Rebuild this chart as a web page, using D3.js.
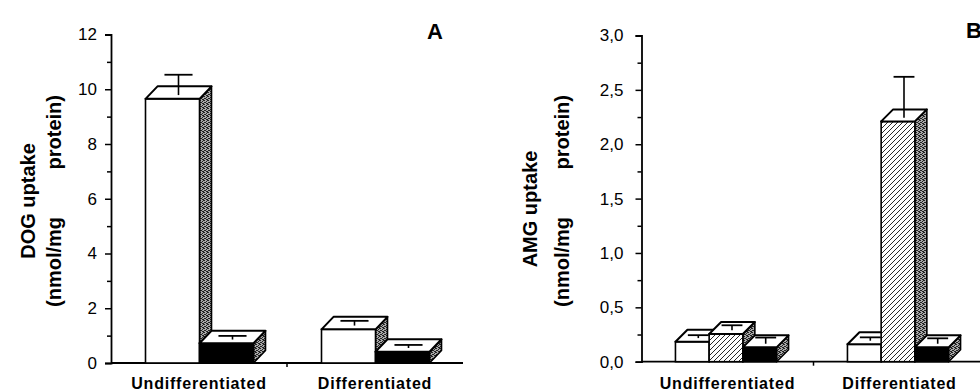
<!DOCTYPE html>
<html>
<head>
<meta charset="utf-8">
<script src="https://cdn.jsdelivr.net/npm/d3@7/dist/d3.min.js"></script>
<style>
  html, body { margin: 0; padding: 0; background: #fff; }
  svg { display: block; }
</style>
</head>
<body>
<svg id="chart" width="980" height="391"></svg>
<script>
// ---------- data ----------
const categories = ["Undifferentiated", "Differentiated"];

// Panel A: DOG uptake (nmol/mg protein)
const dogSeries = ["white", "black"];
const dogWhite = [9.65, 1.23];
const dogBlack = [0.72, 0.41];
const dogWhiteErr = [0.88, 0.31];
const dogBlackErr = [0.27, 0.25];
const dogTicks = [0, 2, 4, 6, 8, 10, 12];
const dogMinorTicks = [1, 3, 5, 7, 9, 11];

// Panel B: AMG uptake (nmol/mg protein)
const amgSeries = ["white", "hatched", "black"];
const amgWhite = [0.184, 0.16];
const amgHatched = [0.255, 2.21];
const amgBlack = [0.132, 0.132];
const amgWhiteErr = [0.06, 0.064];
const amgHatchedErr = [0.08, 0.41];
const amgBlackErr = [0.09, 0.083];
const amgTicks = [0, 0.5, 1.0, 1.5, 2.0, 2.5, 3.0];
const amgMinorTicks = [0.25, 0.75, 1.25, 1.75, 2.25, 2.75];

// ---------- setup ----------
const svg = d3.select("#chart");
const defs = svg.append("defs");

// stipple gray for side faces
const stip = defs.append("pattern").attr("id", "stipple")
  .attr("patternUnits", "userSpaceOnUse").attr("width", 4).attr("height", 4);
stip.append("rect").attr("width", 4).attr("height", 4).attr("fill", "#a8a8a8");
[[0,0],[2,1],[1,2],[3,3],[2,3],[0,2],[3,0]].forEach(([x,y]) =>
  stip.append("rect").attr("x", x).attr("y", y).attr("width", 1).attr("height", 1).attr("fill", "#222"));

// diagonal hatch
const hatch = defs.append("pattern").attr("id", "hatch")
  .attr("patternUnits", "userSpaceOnUse").attr("width", 5).attr("height", 5);
hatch.append("rect").attr("width", 5).attr("height", 5).attr("fill", "#fff");
hatch.append("path").attr("d", "M0,5 L5,0 M-1,1 L1,-1 M4,6 L6,4")
  .attr("stroke", "#111").attr("stroke-width", 0.9);

const frontFill = { white: "#fff", black: "#000", hatched: "url(#hatch)" };

const commaLocale = d3.formatLocale({ decimal: ",", thousands: ".", grouping: [3], currency: ["", ""] });

function drawPanel(cfg) {
  const g = svg.append("g");
  const y = d3.scaleLinear().domain(cfg.yDomain).range([cfg.y0, cfg.yTop]);
  const x = d3.scaleBand().domain(categories).range([cfg.axisX, cfg.axisX + 2 * cfg.band]).paddingInner(0).paddingOuter(0);

  // y axis major
  const ax = g.append("g").attr("transform", `translate(${cfg.axisX},0)`)
    .call(d3.axisLeft(y).tickValues(cfg.ticks).tickFormat(cfg.fmt).tickSize(6).tickPadding(cfg.tickPad));
  ax.select(".domain").attr("stroke", "#000").attr("stroke-width", 1.8);
  ax.selectAll(".tick line").attr("stroke", "#000").attr("stroke-width", 1.5);
  ax.selectAll(".tick text").attr("font-family", "Liberation Sans, Arial, sans-serif")
    .attr("font-size", 17).attr("fill", "#000");
  // y axis minor
  const axm = g.append("g").attr("transform", `translate(${cfg.axisX},0)`)
    .call(d3.axisLeft(y).tickValues(cfg.minor).tickFormat("").tickSize(4));
  axm.select(".domain").remove();
  axm.selectAll(".tick line").attr("stroke", "#000").attr("stroke-width", 1.5);

  // x axis
  const xa = g.append("g").attr("transform", `translate(0,${cfg.y0})`)
    .call(d3.axisBottom(x).tickSize(0).tickFormat(""));
  xa.select(".domain").attr("stroke", "#000").attr("stroke-width", 1.8)
    .attr("d", `M${cfg.axisX},0H${cfg.axisX + 2 * cfg.band}`);
  g.append("line").attr("x1", cfg.axisX + cfg.band).attr("x2", cfg.axisX + cfg.band)
    .attr("y1", cfg.y0).attr("y2", cfg.y0 + 4).attr("stroke", "#000").attr("stroke-width", 1.5);

  // category labels
  g.selectAll("text.cat").data(categories).join("text").attr("class", "cat")
    .attr("x", d => x(d) + x.bandwidth() / 2)
    .attr("y", 389).attr("text-anchor", "middle")
    .attr("font-family", "Liberation Sans, Arial, sans-serif").attr("font-weight", "bold")
    .attr("font-size", 16).attr("letter-spacing", 0.8).text(d => d);

  // bars
  const n = cfg.series.length;
  const w = cfg.barW, dx = cfg.dx, dy = cfg.dy;
  categories.forEach((cat, ci) => {
    const cx = x(cat) + x.bandwidth() / 2 + cfg.shift;
    const start = cx - n * w / 2;
    cfg.series.forEach((s, si) => {
      const v = cfg.values[si][ci];
      const e = cfg.errors[si][ci];
      const x0 = start + si * w, x1 = x0 + w;
      const yt = y(v), yb = y(0);
      const bg = g.append("g");
      // side
      bg.append("path")
        .attr("d", `M${x1},${yt}L${x1 + dx},${yt - dy}L${x1 + dx},${yb - dy}L${x1},${yb}Z`)
        .attr("fill", "url(#stipple)").attr("stroke", "#000").attr("stroke-width", 1.6).attr("stroke-linejoin", "round");
      // front
      bg.append("rect").attr("x", x0).attr("y", yt).attr("width", w).attr("height", yb - yt)
        .attr("fill", frontFill[s]).attr("stroke", "#000").attr("stroke-width", 1.6);
      // top
      bg.append("path")
        .attr("d", `M${x0},${yt}L${x0 + dx},${yt - dy}L${x1 + dx},${yt - dy}L${x1},${yt}Z`)
        .attr("fill", "#fff").attr("stroke", "#000").attr("stroke-width", 2).attr("stroke-linejoin", "round");
      // error bar
      const ex = (x0 + x1) / 2 + dx / 2;
      const ey = y(v + e);
      const capW = w * cfg.capFrac;
      bg.append("line").attr("x1", ex).attr("x2", ex).attr("y1", yt - dy * 0.3).attr("y2", ey)
        .attr("stroke", "#000").attr("stroke-width", 1.6);
      bg.append("line").attr("x1", ex - capW / 2).attr("x2", ex + capW / 2).attr("y1", ey).attr("y2", ey)
        .attr("stroke", "#000").attr("stroke-width", 1.8);
    });
  });

  // y-axis title (two lines, rotated)
  const tg = g.append("g").attr("font-family", "Liberation Sans, Arial, sans-serif")
    .attr("font-weight", "bold").attr("font-size", 20);
  tg.append("text").attr("transform", `translate(${cfg.t1x},${cfg.t1y}) rotate(-90)`)
    .attr("text-anchor", "middle").text(cfg.title1);
  tg.append("text").attr("transform", `translate(${cfg.t2x},${cfg.t2y}) rotate(-90)`)
    .attr("text-anchor", "start").attr("x", -cfg.t2half).text("(nmol/mg");
  tg.append("text").attr("transform", `translate(${cfg.t2x},${cfg.t2y}) rotate(-90)`)
    .attr("text-anchor", "end").attr("x", cfg.t2half).text("protein)");

  // panel letter
  g.append("text").attr("x", cfg.letterX).attr("y", cfg.letterY)
    .attr("font-family", "Liberation Sans, Arial, sans-serif").attr("font-weight", "bold")
    .attr("font-size", 22).text(cfg.letter);
}

drawPanel({
  yDomain: [0, 12], y0: 363, yTop: 34.5, axisX: 111, band: 176,
  ticks: dogTicks, minor: dogMinorTicks, fmt: d3.format("d"), tickPad: 8,
  series: dogSeries, values: [dogWhite, dogBlack], errors: [dogWhiteErr, dogBlackErr],
  barW: 54, dx: 12, dy: 12.5, shift: 0.5, capFrac: 0.52,
  title1: "DOG uptake", t1x: 35, t1y: 201, t2x: 61, t2y: 201, t2half: 106,
  letter: "A", letterX: 427, letterY: 39
});

drawPanel({
  yDomain: [0, 3], y0: 361.7, yTop: 35.5, axisX: 641.5, band: 172,
  ticks: amgTicks, minor: amgMinorTicks, fmt: commaLocale.format(".1f"), tickPad: 12,
  series: amgSeries, values: [amgWhite, amgHatched, amgBlack],
  errors: [amgWhiteErr, amgHatchedErr, amgBlackErr],
  barW: 33.7, dx: 12, dy: 12, shift: -1.5, capFrac: 0.62,
  title1: "AMG uptake", t1x: 537, t1y: 209, t2x: 569, t2y: 201, t2half: 106,
  letter: "B", letterX: 966, letterY: 38
});
</script>
</body>
</html>
